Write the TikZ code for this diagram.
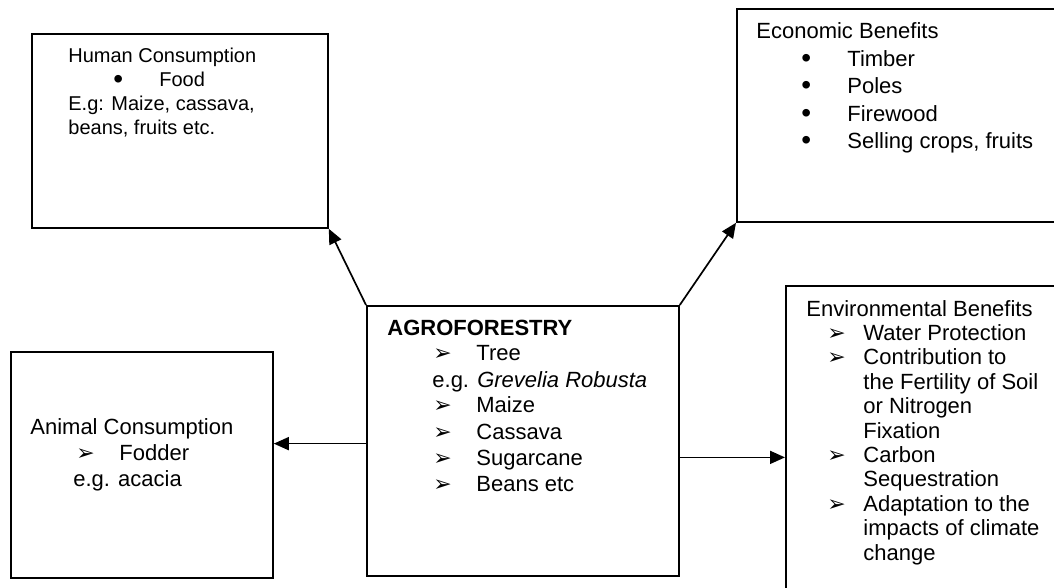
\documentclass[tikz,border=0pt]{standalone}
\usepackage{fontspec}
\setmainfont{Liberation Sans}
\newfontfamily\dingfont{DejaVu Sans}
\usepackage{tikz}
\usetikzlibrary{%
  positioning
 ,arrows.meta
 ,calc
}
\tikzstyle{box}=[draw=black,line width=0.9pt,rectangle,inner sep=0pt,anchor=north west]
\tikzstyle{txt}=[anchor=base west,inner sep=0pt,font=\fontsize{11}{13}\selectfont]
\tikzstyle{conn}=[line width=0.85pt,-{Triangle[length=7.5pt,width=6.5pt]}]

\newcommand{\bigdot}{\raisebox{-0.6pt}{\fontsize{14}{14}\selectfont\textbullet}}
\newcommand{\dotitem}[1]{\hspace*{22.5pt}\makebox[23pt][l]{\bigdot}#1}
\newcommand{\arrowbul}{{\dingfont\fontsize{11}{11}\selectfont ➢}}
\newcommand{\arritem}[1]{\hspace*{23pt}\makebox[21.5pt][l]{\arrowbul}#1}
\newcommand{\envitem}[1]{\hspace*{10.5pt}\makebox[18pt][l]{\arrowbul}#1}

\begin{document}
\begin{tikzpicture}[x=0.5pt,y=-0.5pt]
  \useasboundingbox (0,0) rectangle (1054,588);
  \clip (0,0) rectangle (1054,588);
% boxes
  \node[box,minimum width=148pt,minimum height=97pt] (human) at (31,33) {};
  \node[box,minimum width=172pt,minimum height=106.5pt] (econ) at (736,8) {};
  \node[box,minimum width=131pt,minimum height=113pt] (animal) at (10,351) {};
  \node[box,minimum width=156pt,minimum height=135pt] (agro) at (366,305) {};
  \node[box,minimum width=150pt,minimum height=165pt] (env) at (785,285) {};
% texts
  \node[txt,font=\fontsize{10}{12}\selectfont] (humantxt) at (68,63) {\parbox[t]{140pt}{%
    Human Consumption\\
    \dotitem{Food}\\
    E.g: Maize, cassava,\\
    beans, fruits etc.}};
  \node[txt,font=\fontsize{11}{13.7}\selectfont] (econtxt) at (756,39) {\parbox[t]{150pt}{%
    Economic Benefits\\
    \dotitem{Timber}\\
    \dotitem{Poles}\\
    \dotitem{Firewood}\\
    \dotitem{Selling crops, fruits}}};
  \node[txt] (animaltxt) at (30,434) {\parbox[t]{120pt}{%
    Animal Consumption\\
    \arritem{Fodder}\\
    \hspace*{21.5pt}e.g. acacia}};
  \node[txt] (agrotxt) at (387,335) {\parbox[t]{140pt}{%
    \textbf{AGROFORESTRY}\\
    \arritem{Tree}\\
    \hspace*{22.5pt}e.g. \textit{Grevelia Robusta}\\
    \arritem{Maize}\\
    \arritem{Cassava}\\
    \arritem{Sugarcane}\\
    \arritem{Beans etc}}};
  \node[txt,font=\fontsize{11}{12.2}\selectfont] (envtxt) at (806,316) {\parbox[t]{140pt}{%
    Environmental Benefits\\
    \envitem{Water Protection}\\
    \envitem{Contribution to}\\
    \hspace*{28.5pt}the Fertility of Soil\\
    \hspace*{28.5pt}or Nitrogen\\
    \hspace*{28.5pt}Fixation\\
    \envitem{Carbon}\\
    \hspace*{28.5pt}Sequestration\\
    \envitem{Adaptation to the}\\
    \hspace*{28.5pt}impacts of climate\\
    \hspace*{28.5pt}change}};
% arrows
  \draw[conn] (agro.north west) -- (human.south east);
  \draw[conn] (agro.north east) -- (econ.south west);
  \draw[conn] (agro.181) -- (agro.181 -| animal.east);
  \draw[conn] (agro.-6.6) -- (agro.-6.6 -| env.west);
\end{tikzpicture}
\end{document}
